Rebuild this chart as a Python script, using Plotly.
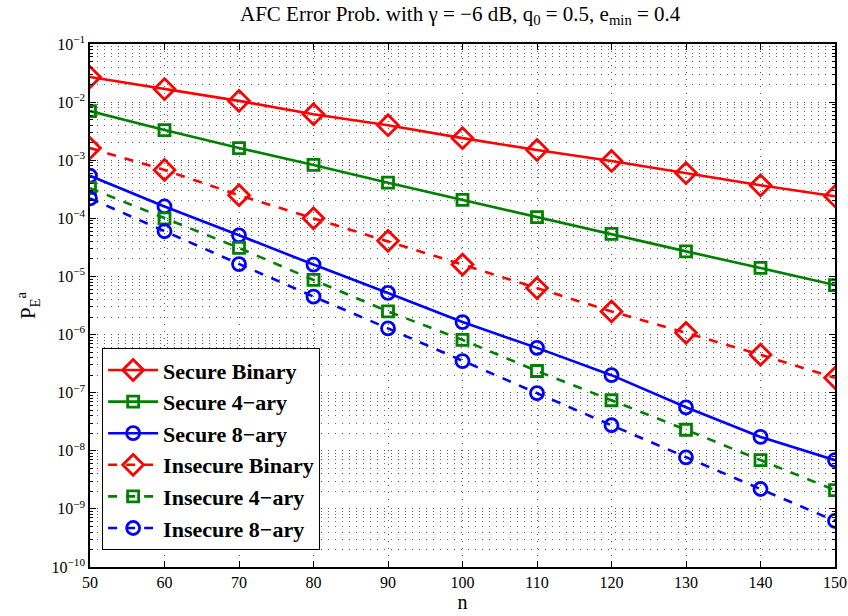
import plotly.graph_objects as go

n = [50, 60, 70, 80, 90, 100, 110, 120, 130, 140, 150]
secure_binary = [0.027, 0.0168, 0.0105, 0.0062, 0.0040, 0.0024, 0.0015, 0.00097, 0.0006, 0.00037, 0.00024]
secure_4ary = [0.0070, 0.0033, 0.00162, 0.00083, 0.00041, 0.000207, 0.000105, 5.4e-5, 2.7e-5, 1.4e-5, 7.1e-6]
secure_8ary = [5.4e-4, 1.6e-4, 5.1e-5, 1.6e-5, 5.2e-6, 1.64e-6, 5.9e-7, 2.0e-7, 5.6e-8, 1.73e-8, 6.9e-9]
insecure_binary = [0.00162, 0.00068, 0.00025, 1.0e-4, 4.1e-5, 1.6e-5, 6.3e-6, 2.5e-6, 1.07e-6, 4.5e-7, 1.8e-7]
insecure_4ary = [3.3e-4, 1.0e-4, 3.1e-5, 8.7e-6, 2.5e-6, 8.1e-7, 2.36e-7, 7.4e-8, 2.3e-8, 6.9e-9, 2.1e-9]
insecure_8ary = [2.2e-4, 6.0e-5, 1.63e-5, 4.5e-6, 1.28e-6, 3.5e-7, 9.8e-8, 2.75e-8, 7.7e-9, 2.2e-9, 6.2e-10]

x_ticks = [50, 60, 70, 80, 90, 100, 110, 120, 130, 140, 150]
y_exps = list(range(-10, 0))

RED, GREEN, BLUE = "#ff0000", "#008000", "#0000ff"
series = [
    ("Secure Binary", secure_binary, RED, "solid", "diamond-open", 16),
    ("Secure 4\u2212ary", secure_4ary, GREEN, "solid", "square-open", 11),
    ("Secure 8\u2212ary", secure_8ary, BLUE, "solid", "circle-open", 13),
    ("Insecure Binary", insecure_binary, RED, "dash", "diamond-open", 16),
    ("Insecure 4\u2212ary", insecure_4ary, GREEN, "dash", "square-open", 11),
    ("Insecure 8\u2212ary", insecure_8ary, BLUE, "dash", "circle-open", 13),
]

fig = go.Figure()
for name, ys, col, dash, sym, sz in series:
    fig.add_trace(go.Scatter(
        x=n, y=ys, name=name, mode="lines+markers",
        line=dict(color=col, width=2.6, dash=dash),
        marker=dict(symbol=sym, size=sz, color=col, line=dict(width=2.8, color=col)),
    ))

font = "Liberation Serif"
minor_vals = [m * 10.0 ** e for e in range(-10, -1) for m in range(2, 10)]
GRID_DASH = "1px,6px"

fig.update_layout(
    width=848, height=616,
    margin=dict(l=90, r=13, t=44, b=49, autoexpand=False),
    paper_bgcolor="white", plot_bgcolor="white",
    font=dict(family=font, size=15, color="black"),
    title=dict(
        text="AFC Error Prob. with \u03b3 = \u22126 dB, q<sub>0</sub> = 0.5, e<sub>min</sub> = 0.4",
        x=0.5427, xanchor="center", y=0.99, yanchor="top",
        font=dict(family=font, size=21, color="black"),
    ),
    showlegend=True,
    legend=dict(
        x=0.016, y=0.0325, xanchor="left", yanchor="bottom",
        bgcolor="white", bordercolor="black", borderwidth=1.2,
        font=dict(family=font, size=22, color="black", weight="bold"),
        itemwidth=50, tracegroupgap=0,
    ),
    xaxis=dict(
        range=[50, 150], tickmode="array", tickvals=x_ticks,
        ticktext=[str(v) for v in x_ticks],
        showline=True, linecolor="black", linewidth=1.5, mirror="ticks",
        ticks="inside", ticklen=6, tickcolor="black",
        showgrid=True, gridcolor="#555555", griddash=GRID_DASH, gridwidth=1,
        zeroline=False,
        title=dict(text="n", font=dict(family=font, size=20), standoff=2),
        tickfont=dict(family=font, size=16),
    ),
    yaxis=dict(
        type="log", range=[-10, -1], tickmode="array",
        tickvals=[10.0 ** e for e in y_exps],
        ticktext=["10<sup>\u2212%d</sup>" % (-e) for e in y_exps],
        showline=True, linecolor="black", linewidth=1.5, mirror="ticks",
        ticks="inside", ticklen=6, tickcolor="black",
        showgrid=True, gridcolor="#555555", griddash=GRID_DASH, gridwidth=1,
        zeroline=False,
        minor=dict(tickmode="array", tickvals=minor_vals, ticks="inside", ticklen=3,
                   tickcolor="black", showgrid=True, gridcolor="#666666",
                   griddash=GRID_DASH, gridwidth=1),
        title=dict(text="P<sub>E</sub><sup>a</sup>", font=dict(family=font, size=21), standoff=10),
        tickfont=dict(family=font, size=16),
    ),
)

fig.write_html("out.html")
